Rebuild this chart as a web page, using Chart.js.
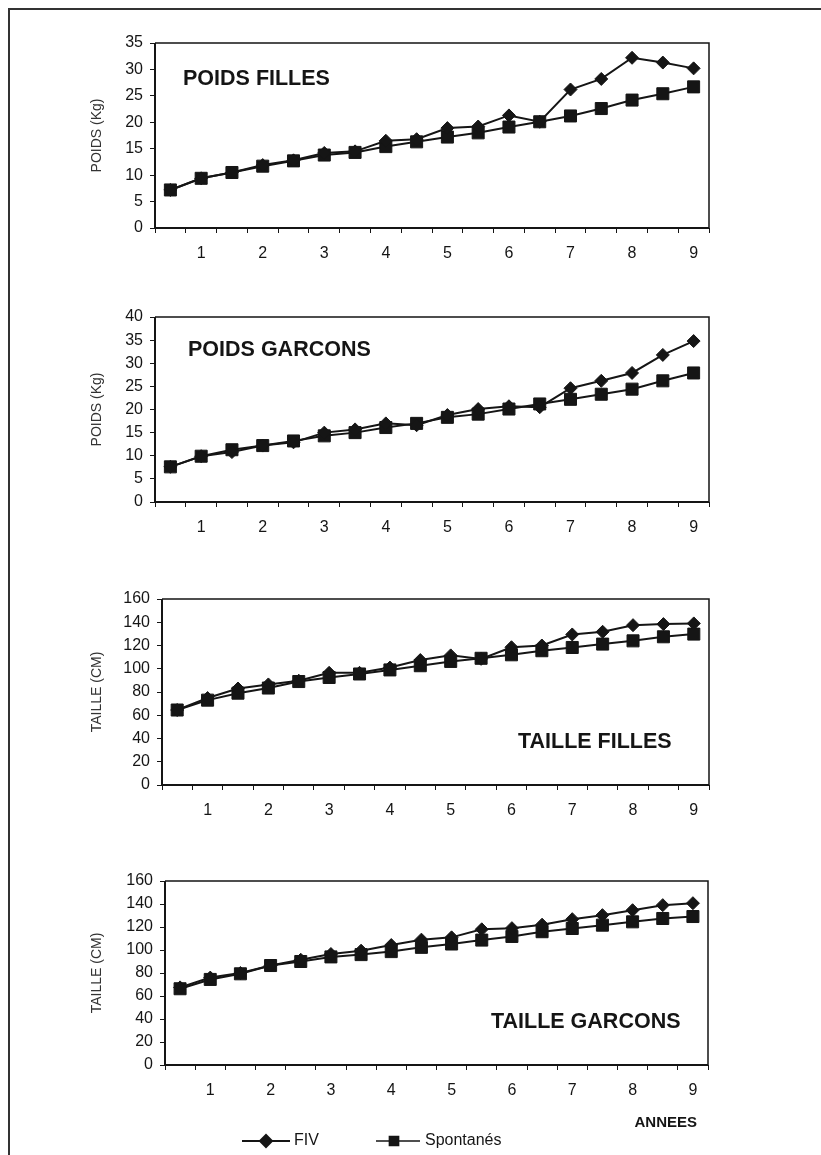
<!DOCTYPE html>
<html>
<head>
<meta charset="utf-8">
<script src="https://cdn.jsdelivr.net/npm/chart.js@4.4.1/dist/chart.umd.min.js"></script>
<style>
  html, body { margin: 0; padding: 0; background: #fff; }
  body { width: 821px; height: 1155px; position: relative; overflow: hidden; }
  .frame { position: absolute; left: 8px; top: 8px; width: 900px; height: 1300px;
           border-left: 2px solid #333; border-top: 2px solid #333; }
  canvas { position: absolute; left: 0; }
</style>
</head>
<body>
<div class="frame"></div>
<canvas id="c1" width="821" height="275" style="top:0px"></canvas>
<canvas id="c2" width="821" height="275" style="top:275px"></canvas>
<canvas id="c3" width="821" height="280" style="top:550px"></canvas>
<canvas id="c4" width="821" height="325" style="top:830px"></canvas>
<script>
// Age in years (half-year steps)
const ages = [0.5, 1, 1.5, 2, 2.5, 3, 3.5, 4, 4.5, 5, 5.5, 6, 6.5, 7, 7.5, 8, 8.5, 9];

// Weight, girls (kg)
const fivPoidsFilles    = [7.2, 9.4, 10.5, 11.9, 12.8, 14.2, 14.5, 16.5, 16.8, 18.9, 19.2, 21.3, 20.1, 26.2, 28.2, 32.2, 31.3, 30.2];
const spontPoidsFilles  = [7.2, 9.4, 10.5, 11.7, 12.7, 13.8, 14.3, 15.4, 16.3, 17.2, 18.0, 19.1, 20.1, 21.2, 22.6, 24.2, 25.4, 26.7];

// Weight, boys (kg)
const fivPoidsGarcons   = [7.6, 9.9, 10.8, 12.2, 12.9, 15.0, 15.7, 17.0, 16.6, 18.8, 20.1, 20.7, 20.5, 24.6, 26.2, 27.9, 31.8, 34.8];
const spontPoidsGarcons = [7.6, 9.9, 11.3, 12.2, 13.2, 14.3, 15.0, 16.1, 17.0, 18.3, 19.0, 20.1, 21.2, 22.2, 23.3, 24.4, 26.2, 27.9];

// Height, girls (cm)
const fivTailleFilles   = [64.5, 74.8, 83.0, 86.5, 89.7, 96.5, 96.5, 101.0, 107.5, 111.5, 108.5, 118.5, 120.0, 129.5, 131.8, 137.5, 138.4, 139.0];
const spontTailleFilles = [64.5, 73.0, 79.0, 83.4, 89.0, 92.5, 95.5, 99.0, 102.6, 106.3, 109.0, 112.0, 115.5, 118.3, 121.2, 124.0, 127.5, 129.8];

// Height, boys (cm)
const fivTailleGarcons   = [67.5, 76.0, 80.0, 86.5, 91.5, 96.5, 99.4, 104.3, 109.0, 111.0, 118.0, 119.0, 122.0, 126.8, 130.3, 134.6, 139.0, 140.7];
const spontTailleGarcons = [66.3, 74.4, 79.3, 86.5, 90.0, 94.0, 96.0, 98.6, 102.3, 105.2, 108.6, 111.8, 115.9, 118.7, 121.6, 124.5, 127.4, 129.1];

// Series names and panel texts
const seriesNames = ['FIV', 'Spontanés'];
const panelTitles = ['POIDS FILLES', 'POIDS GARCONS', 'TAILLE FILLES', 'TAILLE GARCONS'];
const yTitles = ['POIDS (Kg)', 'POIDS (Kg)', 'TAILLE (CM)', 'TAILLE (CM)'];
const xTitle = 'ANNEES';

const FONT = "'Liberation Sans', Arial, sans-serif";
const INK = '#151515';

// Box around the plot area
const plotBox = {
  id: 'plotBox',
  afterDatasetsDraw(chart) {
    const a = chart.chartArea, ctx = chart.ctx;
    ctx.save();
    ctx.strokeStyle = INK;
    ctx.lineWidth = 1.5;
    ctx.beginPath();
    ctx.moveTo(a.left, a.top); ctx.lineTo(a.right, a.top); ctx.lineTo(a.right, a.bottom);
    ctx.stroke();
    ctx.lineWidth = 2;
    ctx.beginPath();
    ctx.moveTo(a.left, a.top); ctx.lineTo(a.left, a.bottom); ctx.lineTo(a.right, a.bottom);
    ctx.stroke();
    ctx.restore();
  }
};

// Panel caption drawn inside the plot area
const panelLabel = {
  id: 'panelLabel',
  afterDraw(chart, args, opts) {
    if (!opts || !opts.text) return;
    const a = chart.chartArea, ctx = chart.ctx;
    ctx.save();
    ctx.fillStyle = INK;
    ctx.font = 'bold 21.5px ' + FONT;
    ctx.textBaseline = 'middle';
    ctx.textAlign = 'left';
    ctx.fillText(opts.text, a.left + opts.dx, a.top + opts.dy);
    ctx.restore();
  }
};

// Axis caption and series key under the last panel
const footer = {
  id: 'footer',
  afterDraw(chart, args, opts) {
    if (!opts || !opts.show) return;
    const a = chart.chartArea, ctx = chart.ctx;
    ctx.save();
    ctx.fillStyle = INK;
    ctx.strokeStyle = INK;
    ctx.font = 'bold 15px ' + FONT;
    ctx.textBaseline = 'middle';
    ctx.textAlign = 'right';
    ctx.fillText(xTitle, a.right - 11, a.bottom + 58);

    const ly = a.bottom + 76;
    ctx.font = '16px ' + FONT;
    ctx.textAlign = 'left';
    // FIV
    ctx.lineWidth = 2;
    ctx.beginPath(); ctx.moveTo(242, ly); ctx.lineTo(290, ly); ctx.stroke();
    Chart.helpers.drawPoint(ctx, {pointStyle: 'rectRot', radius: 6, rotation: 0, borderWidth: 1}, 266, ly);
    ctx.fill();
    ctx.fillText(seriesNames[0], 294, ly);
    // Spontanés
    ctx.lineWidth = 1.5;
    ctx.beginPath(); ctx.moveTo(376, ly); ctx.lineTo(420, ly); ctx.stroke();
    Chart.helpers.drawPoint(ctx, {pointStyle: 'rect', radius: 6.5, rotation: 0, borderWidth: 1}, 394, ly);
    ctx.fill();
    ctx.fillText(seriesNames[1], 425, ly);
    ctx.restore();
  }
};

function makeChart(id, fiv, spont, cfg) {
  const ctx = document.getElementById(id);
  return new Chart(ctx, {
    type: 'line',
    data: {
      labels: ages,
      datasets: [
        { label: seriesNames[0], data: fiv, borderColor: INK, backgroundColor: INK,
          borderWidth: 2, pointStyle: 'rectRot', pointRadius: 6.5, pointBorderWidth: 1,
          pointBackgroundColor: INK, pointBorderColor: INK, tension: 0 },
        { label: seriesNames[1], data: spont, borderColor: INK, backgroundColor: INK,
          borderWidth: 2, pointStyle: 'rect', pointRadius: 8.5, pointBorderWidth: 1,
          pointBackgroundColor: INK, pointBorderColor: INK, tension: 0 }
      ]
    },
    options: {
      responsive: false,
      animation: false,
      devicePixelRatio: 1,
      layout: { padding: { left: 89, right: 821 - cfg.right, top: cfg.top, bottom: 0 } },
      plugins: {
        legend: { display: false },
        tooltip: { enabled: false },
        panelLabel: cfg.label,
        footer: { show: !!cfg.footer }
      },
      scales: {
        x: {
          type: 'category',
          offset: true,
          border: { display: false },
          grid: { offset: true, drawOnChartArea: false, drawTicks: true, tickLength: 5, color: INK, lineWidth: 1 },
          ticks: {
            autoSkip: false, maxRotation: 0, minRotation: 0, padding: 11,
            color: INK, font: { family: FONT, size: 16 },
            callback: (v, i) => Number.isInteger(ages[i]) ? String(ages[i]) : ''
          },
          afterFit: (s) => { s.height = cfg.xh; s.paddingLeft = 0; s.paddingRight = 0; }
        },
        y: {
          min: 0, max: cfg.max,
          border: { display: false },
          grid: { drawOnChartArea: false, drawTicks: true, tickLength: 5, color: INK, lineWidth: 1 },
          ticks: { stepSize: cfg.step, padding: 7, color: INK, font: { family: FONT, size: 16 } },
          title: { display: true, text: cfg.ytitle, color: '#333', padding: 0,
                   font: { family: FONT, size: 14 } },
          afterFit: (s) => { s.width = cfg.left - 89; s.paddingTop = 0; s.paddingBottom = 0; }
        }
      }
    },
    plugins: [plotBox, panelLabel, footer]
  });
}

// canvas tops: 0, 275, 550, 830
makeChart('c1', fivPoidsFilles, spontPoidsFilles,
  { top: 43, left: 155, right: 709, xh: 275 - 228, max: 35, step: 5, ytitle: yTitles[0],
    label: { text: panelTitles[0], dx: 28, dy: 36 } });
makeChart('c2', fivPoidsGarcons, spontPoidsGarcons,
  { top: 317 - 275, left: 155, right: 709, xh: 550 - 502, max: 40, step: 5, ytitle: yTitles[1],
    label: { text: panelTitles[1], dx: 33, dy: 33 } });
makeChart('c3', fivTailleFilles, spontTailleFilles,
  { top: 599 - 550, left: 162, right: 709, xh: 830 - 785, max: 160, step: 20, ytitle: yTitles[2],
    label: { text: panelTitles[2], dx: 356, dy: 143 } });
makeChart('c4', fivTailleGarcons, spontTailleGarcons,
  { top: 881 - 830, left: 165, right: 708, xh: 1155 - 1065, max: 160, step: 20, ytitle: yTitles[3],
    label: { text: panelTitles[3], dx: 326, dy: 141 }, footer: true });
</script>
</body>
</html>
